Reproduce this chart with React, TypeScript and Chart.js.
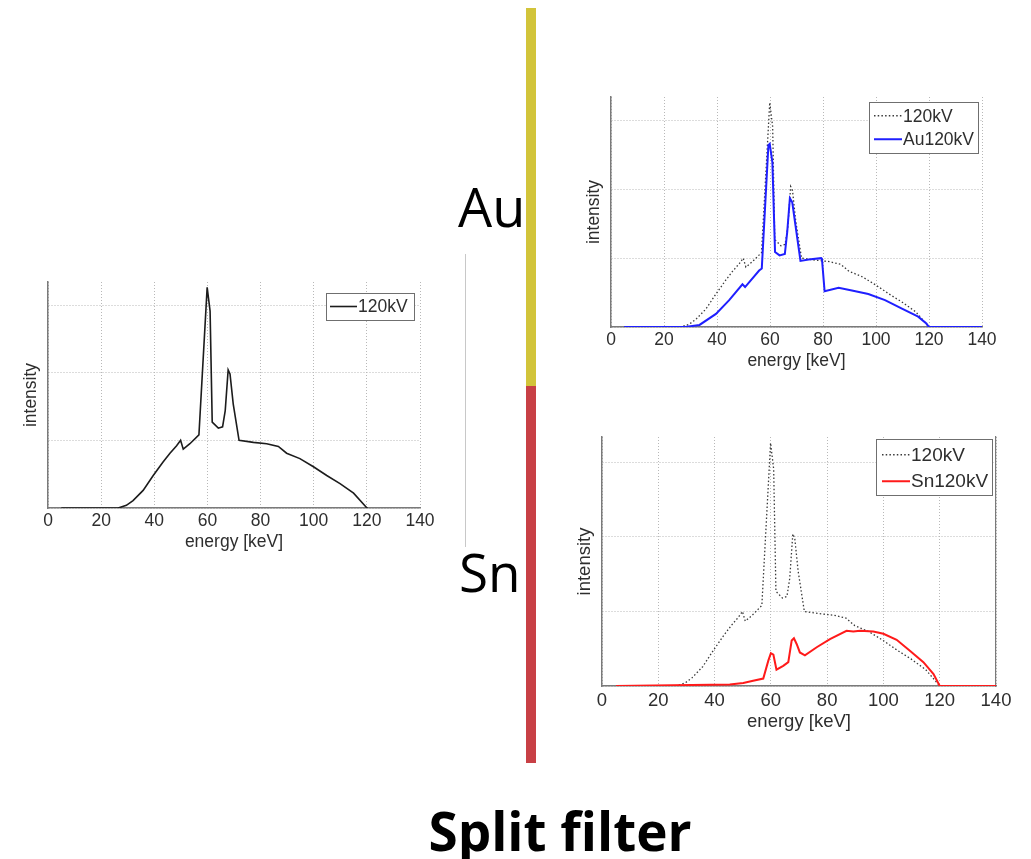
import React, { useEffect, useRef } from "react";
import { Chart, registerables } from "chart.js";

Chart.register(...registerables);

// ---------------- data ----------------
const xTickValues = [0, 20, 40, 60, 80, 100, 120, 140];
const yGridValues = [0, 1, 2, 3];

const energy120 = [5, 26.4, 29.5, 32, 35.8, 39.6, 43.3, 45.9, 48.4, 49.9, 50.9, 53.4, 56.8, 59.9, 61, 61.8, 64.1, 65.7, 66.7, 67.8, 68.5, 69.7, 71.9, 77.3, 82.3, 86.7, 89.8, 94.8, 99.9, 104.9, 109.9, 115, 119.7, 120];
const intensity120 = [0, 0, 0.04, 0.11, 0.26, 0.48, 0.68, 0.81, 0.92, 1.0, 0.87, 0.95, 1.08, 3.26, 2.91, 1.27, 1.18, 1.2, 1.44, 2.04, 1.98, 1.54, 1.0, 0.97, 0.95, 0.91, 0.81, 0.73, 0.61, 0.48, 0.36, 0.22, 0.015, 0];

const energyAu = [5, 28, 33.4, 39.6, 44.6, 49.6, 50.6, 55.9, 56.9, 59.4, 59.9, 60.9, 61.9, 63.6, 65.6, 66.5, 67.5, 68.4, 69.6, 71.5, 74.6, 79.3, 79.6, 80.6, 85.9, 90.9, 97.1, 103.4, 109.6, 115.9, 119, 120, 140];
const intensityAu = [0, 0, 0.03, 0.19, 0.39, 0.62, 0.58, 0.82, 0.85, 2.64, 2.66, 2.39, 1.09, 1.04, 1.06, 1.38, 1.87, 1.81, 1.48, 0.96, 0.98, 1.0, 0.99, 0.52, 0.57, 0.53, 0.48, 0.39, 0.27, 0.15, 0.05, 0, 0];

const energySn = [5, 45.4, 50.2, 53.7, 57.3, 59.1, 60, 60.9, 62, 64.4, 66.2, 67.4, 68.2, 69.2, 70.3, 72.1, 76.3, 81, 86.9, 89.3, 91.7, 96.4, 100, 104.7, 109.5, 114.2, 117.8, 119.6, 120, 140];
const intensitySn = [0, 0.02, 0.04, 0.07, 0.1, 0.34, 0.44, 0.42, 0.22, 0.27, 0.32, 0.61, 0.64, 0.56, 0.45, 0.41, 0.52, 0.63, 0.74, 0.73, 0.74, 0.73, 0.7, 0.62, 0.47, 0.32, 0.16, 0.03, 0, 0];

const labelRef = "120kV";
const labelAu = "Au120kV";
const labelSn = "Sn120kV";
const xTitleText = "energy [keV]";
const yTitleText = "intensity";
const yMax = 3.34;

// ---------------- styles ----------------
const FONT = "'Liberation Sans', Arial, Helvetica, sans-serif";
const TEXT = "#2e2e2e";
const AXIS = "#7a7a7a";
const GRID = "#b8b8b8";

const toPoints = (xs: number[], ys: number[]) => xs.map((x, i) => ({ x, y: ys[i] }));

const boxLegend = {
  id: "boxLegend",
  afterDraw(chart: any, _args: any, opts: any) {
    const { ctx, chartArea } = chart;
    const w = opts.width, h = opts.height;
    const x = Math.round(chartArea.right - opts.right - w);
    const y = Math.round(chartArea.top + opts.top);
    ctx.save();
    ctx.fillStyle = "#ffffff";
    ctx.fillRect(x, y, w, h);
    ctx.strokeStyle = "#6f6f6f";
    ctx.lineWidth = 1;
    ctx.strokeRect(x + 0.5, y + 0.5, w, h);
    chart.data.datasets.forEach((ds: any, i: number) => {
      const cy = y + opts.padY + opts.rowH * (i + 0.5);
      ctx.setLineDash(ds.borderDash || []);
      ctx.strokeStyle = ds.borderColor;
      ctx.lineWidth = ds.borderWidth;
      ctx.beginPath();
      ctx.moveTo(x + opts.lineStart, cy);
      ctx.lineTo(x + opts.lineStart + opts.lineLen, cy);
      ctx.stroke();
      ctx.setLineDash([]);
      ctx.fillStyle = TEXT;
      ctx.font = `${opts.fontSize}px ${FONT}`;
      ctx.textBaseline = "middle";
      ctx.textAlign = "left";
      ctx.fillText(ds.label, x + opts.lineStart + opts.lineLen + 1, cy + 1);
    });
    ctx.restore();
  },
};

function makeConfig(p: any) {
  const scales: any = {
    x: {
      type: "linear",
      min: 0,
      max: 140,
      afterBuildTicks: (s: any) => {
        s.ticks = xTickValues.map((v) => ({ value: v }));
      },
      ticks: { color: TEXT, font: { family: FONT, size: p.fontSize }, padding: p.tickPad, maxRotation: 0, autoSkip: false },
      grid: { color: GRID, lineWidth: 1, drawTicks: false },
      border: { display: true, color: AXIS, width: 1.5, dash: [1, 2] },
      title: { display: true, text: xTitleText, color: TEXT, font: { family: FONT, size: p.fontSize }, padding: { top: 0, bottom: p.titleBottomPad } },
      afterFit: (s: any) => {
        s.height = p.xHeight;
      },
    },
    y: {
      type: "linear",
      min: 0,
      max: yMax,
      afterBuildTicks: (s: any) => {
        s.ticks = yGridValues.map((v) => ({ value: v }));
      },
      ticks: { display: false },
      grid: { color: GRID, lineWidth: 1, drawTicks: false },
      border: { display: true, color: AXIS, width: 1.5, dash: [1, 2] },
      title: { display: true, text: yTitleText, color: TEXT, font: { family: FONT, size: p.fontSize }, padding: { top: p.yTitlePad, bottom: 0 } },
      afterFit: (s: any) => {
        s.width = p.yWidth;
      },
    },
  };
  if (p.rightAxis) {
    scales.y2 = {
      type: "linear",
      position: "right",
      min: 0,
      max: yMax,
      ticks: { display: false },
      grid: { display: false, drawTicks: false },
      border: { display: true, color: AXIS, width: 1.2 },
      afterFit: (s: any) => {
        s.width = 1;
      },
    };
  }
  return {
    type: "line",
    data: { datasets: p.datasets },
    options: {
      responsive: false,
      maintainAspectRatio: false,
      animation: false,
      devicePixelRatio: 1,
      layout: { padding: p.padding },
      elements: { point: { radius: 0 }, line: { tension: 0 } },
      plugins: { legend: { display: false }, tooltip: { enabled: false }, boxLegend: p.legend },
      scales,
    },
    plugins: [boxLegend],
  };
}

function ChartPanel({ spec }: { spec: any }) {
  const ref = useRef<HTMLCanvasElement | null>(null);
  useEffect(() => {
    if (!ref.current) return;
    const chart = new Chart(ref.current, makeConfig(spec) as any);
    return () => chart.destroy();
  }, [spec]);
  return (
    <div style={{ position: "absolute", left: spec.left, top: spec.top, width: spec.width, height: spec.height }}>
      <canvas ref={ref} width={spec.width} height={spec.height} style={{ width: spec.width, height: spec.height, display: "block" }} />
    </div>
  );
}

const dottedRef = {
  label: labelRef,
  data: toPoints(energy120, intensity120),
  borderColor: "#3a3a3a",
  borderWidth: 1.3,
  borderDash: [1.5, 2.2],
  fill: false,
  order: 2,
  pointRadius: 0,
};

const leftSpec = {
  left: 0, top: 270, width: 440, height: 300,
  padding: { left: 0, right: 20, top: 12, bottom: 12 },
  yWidth: 48, xHeight: 50, fontSize: 17.5, tickPad: 3, titleBottomPad: 5.5, yTitlePad: 20.5,
  rightAxis: false,
  legend: { right: 6, top: 11, width: 88, height: 27, rowH: 27, padY: 0, lineStart: 4, lineLen: 27, fontSize: 17.5 },
  datasets: [
    { label: labelRef, data: toPoints(energy120, intensity120), borderColor: "#1c1c1c", borderWidth: 1.6, fill: false, pointRadius: 0 },
  ],
};

const auSpec = {
  left: 560, top: 85, width: 450, height: 300,
  padding: { left: 0, right: 28, top: 12, bottom: 8 },
  yWidth: 51, xHeight: 50, fontSize: 17.5, tickPad: 3, titleBottomPad: 5.5, yTitlePad: 23.5,
  rightAxis: false,
  legend: { right: 4, top: 5, width: 109, height: 51, rowH: 23.5, padY: 2, lineStart: 5, lineLen: 28, fontSize: 17.5 },
  datasets: [
    dottedRef,
    { label: labelAu, data: toPoints(energyAu, intensityAu), borderColor: "#1f1fff", borderWidth: 2, fill: false, order: 1, pointRadius: 0 },
  ],
};

const snSpec = {
  left: 550, top: 425, width: 481, height: 320,
  padding: { left: 0, right: 34, top: 12, bottom: 9 },
  yWidth: 52, xHeight: 50, fontSize: 18.5, tickPad: 4, titleBottomPad: 2.9, yTitlePad: 23.9,
  rightAxis: true,
  legend: { right: 4, top: 2, width: 116, height: 56, rowH: 26.5, padY: 2.5, lineStart: 6, lineLen: 28, fontSize: 19 },
  datasets: [
    { ...dottedRef },
    { label: labelSn, data: toPoints(energySn, intensitySn), borderColor: "#ff1a1a", borderWidth: 2, fill: false, order: 1, pointRadius: 0 },
  ],
};

export default function App() {
  return (
    <div style={{ position: "absolute", left: 0, top: 0, width: 1031, height: 859, background: "#ffffff", overflow: "hidden" }}>
      <ChartPanel spec={leftSpec} />
      <ChartPanel spec={auSpec} />
      <ChartPanel spec={snSpec} />
      {/* thin divider */}
      <div style={{ position: "absolute", left: 465, top: 254, width: 1, height: 293, background: "#c8c8c8" }} />
      {/* split bar */}
      <div style={{ position: "absolute", left: 526, top: 8, width: 10, height: 378, background: "#d2c43a" }} />
      <div style={{ position: "absolute", left: 526, top: 386, width: 10, height: 377, background: "#c84045" }} />
      <div style={{ position: "absolute", left: 458, top: 179, fontFamily: "'Open Sans', sans-serif", fontSize: 54, lineHeight: 1, color: "#000", whiteSpace: "nowrap" }}>Au</div>
      <div style={{ position: "absolute", left: 459, top: 545, fontFamily: "'Open Sans', sans-serif", fontSize: 53, lineHeight: 1, color: "#000", whiteSpace: "nowrap" }}>Sn</div>
      <div style={{ position: "absolute", left: 360, width: 400, top: 804, textAlign: "center", fontFamily: "'Open Sans', sans-serif", fontWeight: 700, fontSize: 53, lineHeight: 1, color: "#000", whiteSpace: "nowrap" }}>Split filter</div>
    </div>
  );
}
